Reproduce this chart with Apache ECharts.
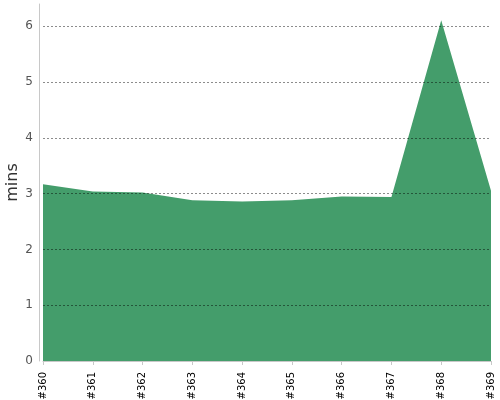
<!DOCTYPE html>
<html>
<head>
<meta charset="utf-8">
<script src="https://cdn.jsdelivr.net/npm/echarts@6/dist/echarts.min.js"></script>
<style>html,body{margin:0;padding:0;background:#fff}#c{width:500px;height:400px}</style>
</head>
<body>
<div id="c"></div>
<script>
var categories = ['#360', '#361', '#362', '#363', '#364', '#365', '#366', '#367', '#368', '#369'];
var minsValues = [3.17, 3.04, 3.02, 2.88, 2.86, 2.88, 2.95, 2.94, 6.11, 3.05];
var yTicks = [0, 1, 2, 3, 4, 5, 6];

var chart = echarts.init(document.getElementById('c'), null, {renderer: 'canvas'});
chart.setOption({
  animation: false,
  grid: {left: 43, right: 9, top: 4, bottom: 39, containLabel: false, outerBoundsMode: 'none'},
  xAxis: {
    type: 'category',
    data: categories,
    boundaryGap: false,
    offset: 5,
    axisLine: {lineStyle: {color: '#c8c8c8', width: 1}},
    axisTick: {show: true, length: 4, lineStyle: {color: '#c8c8c8'}},
    axisLabel: {rotate: 90, color: '#000', fontSize: 10, margin: 6, fontFamily: 'DejaVu Sans', interval: 0},
    splitLine: {show: false}
  },
  yAxis: {
    type: 'value',
    min: yTicks[0],
    max: 6.4,
    interval: 1,
    offset: 4,
    name: 'mins',
    nameLocation: 'middle',
    nameGap: 18,
    nameMoveOverlap: false,
    nameTextStyle: {fontSize: 16, color: '#333', fontFamily: 'DejaVu Sans'},
    axisLine: {show: true, lineStyle: {color: '#c8c8c8', width: 1}},
    axisTick: {show: false},
    axisLabel: {color: '#555', fontSize: 12, margin: 6, fontFamily: 'DejaVu Sans', showMaxLabel: false,
      formatter: function (v) { return yTicks.indexOf(v) >= 0 ? String(v) : ''; }},
    splitLine: {show: true, showMinLine: false, showMaxLine: false, lineStyle: {color: 'rgba(0,0,0,0.45)', type: [2, 2], width: 1}}
  },
  series: [{
    type: 'line',
    data: minsValues,
    z: -1,
    symbol: 'none',
    lineStyle: {width: 0},
    areaStyle: {color: '#449d6b', opacity: 1}
  }]
});
</script>
</body>
</html>
